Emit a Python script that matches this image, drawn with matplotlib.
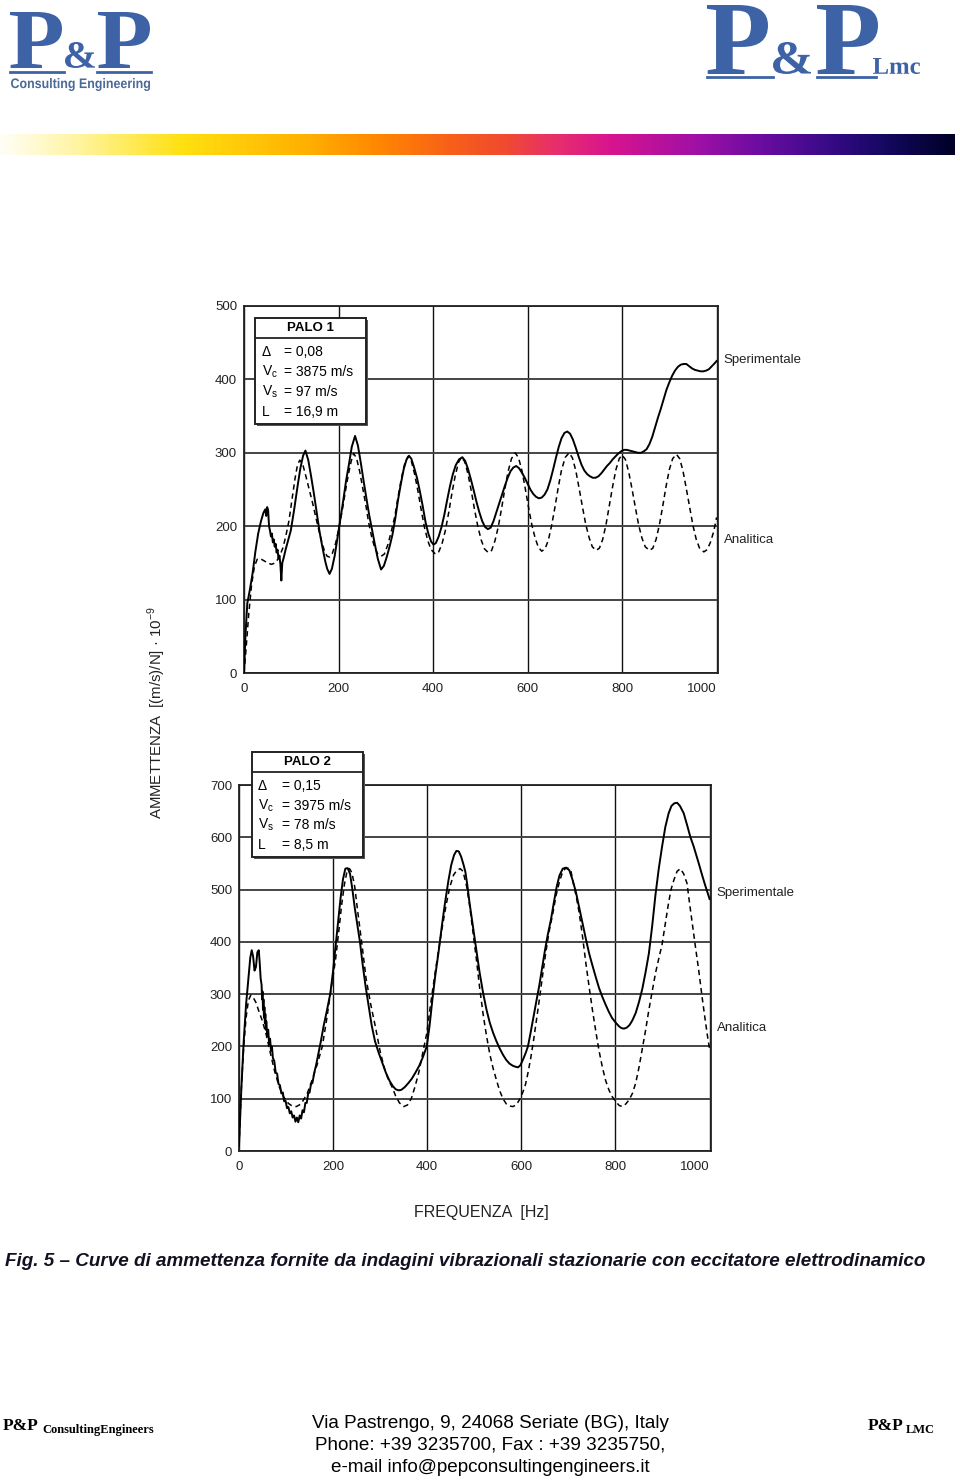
import matplotlib
matplotlib.use("Agg")
import matplotlib.pyplot as plt
import numpy as np
from matplotlib.textpath import TextPath
from matplotlib.font_manager import FontProperties, fontManager
from matplotlib.patches import PathPatch, Rectangle
from matplotlib.transforms import Affine2D
from matplotlib.colors import LinearSegmentedColormap

# --- values (frequency Hz, admittance) ---
sper1 = [(0, 0), (3, 50), (7, 95), (12, 112), (18, 135), (24, 165), (30, 190), (36, 207), (41, 218), (45, 223),
         (47, 214), (49, 226), (51, 222), (53, 200), (55, 194), (57, 186), (59, 190), (61, 178), (63, 182), (65, 172),
         (67, 176), (69, 164), (71, 168), (73, 156), (75, 160), (77, 148), (79, 126), (81, 150), (84, 157), (88, 168),
         (93, 180), (99, 194), (106, 222), (113, 253), (119, 278), (125, 296), (130, 303), (136, 290), (142, 268),
         (148, 244), (154, 218), (160, 192), (166, 171), (172, 152), (176, 142), (181, 135), (186, 142), (192, 160),
         (198, 185), (204, 210), (210, 235), (216, 262), (222, 284), (228, 308), (235, 323), (241, 310), (247, 287),
         (253, 262), (259, 238), (265, 215), (271, 195), (277, 175), (283, 156), (290, 141), (296, 146), (302, 158),
         (308, 172), (314, 188), (320, 210), (326, 236), (332, 258), (338, 278), (344, 291), (349, 296), (354, 292),
         (360, 280), (366, 266), (372, 248), (378, 228), (384, 206), (390, 190), (396, 179), (401, 175), (406, 177),
         (412, 186), (418, 199), (424, 216), (430, 236), (436, 255), (442, 271), (448, 283), (455, 291), (462, 294),
         (468, 289), (474, 278), (480, 264), (486, 249), (492, 233), (498, 219), (504, 207), (510, 199), (516, 196),
         (522, 198), (528, 207), (534, 219), (540, 231), (546, 243), (552, 255), (558, 266), (564, 275), (570, 280),
         (576, 282), (582, 279), (588, 273), (594, 266), (600, 258), (606, 250), (612, 244), (618, 240), (624, 238),
         (630, 239), (636, 243), (642, 250), (648, 262), (654, 277), (660, 293), (666, 308), (672, 320), (678, 327),
         (684, 329), (690, 326), (696, 318), (702, 307), (708, 295), (714, 284), (720, 276), (726, 271), (732, 268),
         (738, 266), (744, 266), (750, 268), (756, 272), (762, 277), (768, 282), (774, 286), (780, 291), (786, 295),
         (792, 299), (798, 302), (804, 304), (810, 304), (816, 303), (822, 302), (828, 301), (834, 300), (840, 300),
         (846, 302), (852, 305), (858, 312), (864, 322), (870, 335), (876, 348), (882, 360), (888, 373), (894, 386),
         (900, 396), (906, 405), (912, 412), (918, 417), (924, 420), (930, 421), (936, 421), (942, 418), (948, 415),
         (954, 413), (960, 412), (966, 411), (972, 411), (978, 412), (984, 414), (990, 418), (996, 422), (1000, 425)]

anal1 = [(0, 0), (4, 30), (10, 80), (16, 120), (22, 145), (28, 155), (34, 156), (42, 153), (50, 150), (58, 148),
         (66, 150), (74, 157), (82, 170), (88, 185), (95, 207), (102, 238), (108, 265), (113, 283), (118, 290),
         (124, 285), (131, 268), (138, 250), (145, 232), (152, 212), (159, 193), (166, 175), (171, 165), (176, 159),
         (181, 158), (187, 163), (194, 177), (201, 198), (208, 222), (215, 249), (221, 271), (227, 289), (232, 299),
         (238, 293), (245, 274), (251, 253), (258, 228), (264, 204), (270, 186), (276, 172), (283, 162), (290, 159),
         (297, 162), (304, 174), (311, 191), (319, 213), (326, 240), (333, 265), (340, 285), (347, 295), (354, 289),
         (361, 271), (368, 248), (375, 222), (382, 198), (389, 180), (396, 168), (405, 162), (412, 165), (419, 176),
         (426, 194), (433, 218), (440, 245), (447, 269), (454, 287), (460, 294), (467, 288), (474, 271), (481, 248),
         (488, 222), (495, 199), (502, 181), (509, 169), (517, 164), (524, 167), (531, 180), (538, 199), (545, 224),
         (552, 251), (559, 275), (566, 292), (574, 300), (581, 293), (588, 276), (595, 252), (602, 226), (609, 202),
         (616, 184), (623, 171), (630, 166), (637, 169), (644, 181), (651, 201), (658, 226), (665, 253), (672, 277),
         (680, 294), (688, 300), (695, 293), (702, 276), (709, 252), (716, 227), (723, 203), (730, 185), (737, 172),
         (745, 167), (752, 170), (759, 182), (766, 202), (773, 228), (780, 254), (787, 277), (794, 292), (800, 297),
         (807, 291), (814, 274), (821, 251), (828, 226), (835, 202), (842, 184), (849, 172), (858, 167), (865, 170),
         (872, 182), (879, 202), (886, 227), (893, 254), (900, 277), (907, 292), (915, 298), (922, 292), (929, 275),
         (936, 251), (943, 226), (950, 201), (957, 182), (964, 170), (973, 165), (980, 168), (987, 178), (994, 193),
         (1000, 212)]

sper2 = [(0, 10), (5, 120), (10, 210), (15, 280), (20, 330), (24, 370), (27, 384), (30, 372), (33, 345), (36, 352),
         (39, 380), (42, 384), (44, 360), (46, 330), (48, 318), (49, 290), (50, 305), (51, 270), (52, 290), (53, 255),
         (54, 275), (55, 245), (56, 262), (57, 232), (58, 248), (60, 220), (62, 232), (64, 205), (66, 215), (68, 192),
         (70, 200), (72, 178), (75, 172), (78, 150), (81, 148), (84, 128), (87, 126), (90, 110), (93, 112), (96, 95),
         (99, 96), (102, 82), (105, 84), (108, 72), (111, 76), (114, 64), (117, 68), (120, 56), (123, 64), (126, 55),
         (129, 68), (132, 62), (135, 78), (138, 74), (141, 92), (144, 92), (147, 110), (150, 112), (153, 128),
         (156, 130), (160, 150), (164, 165), (169, 187), (174, 210), (180, 240), (186, 265), (194, 301), (200, 345),
         (205, 390), (211, 441), (216, 485), (221, 520), (226, 540), (231, 541), (236, 530), (241, 500), (246, 465),
         (251, 435), (257, 400), (263, 355), (269, 315), (275, 280), (282, 240), (289, 210), (296, 190), (304, 170),
         (312, 150), (320, 134), (327, 124), (333, 118), (339, 116), (345, 117), (352, 122), (360, 130), (367, 138),
         (375, 150), (383, 163), (391, 180), (399, 200), (405, 240), (411, 290), (417, 335), (424, 380), (431, 430),
         (438, 476), (445, 517), (451, 547), (457, 566), (462, 574), (467, 573), (472, 563), (477, 548), (481, 534),
         (485, 510), (490, 474), (497, 430), (504, 385), (511, 343), (519, 301), (526, 270), (533, 245), (540, 226),
         (547, 210), (554, 196), (561, 184), (568, 174), (575, 167), (582, 163), (588, 161), (593, 160), (598, 164),
         (604, 176), (609, 187), (614, 200), (620, 228), (626, 258), (632, 287), (638, 316), (644, 350), (650, 383),
         (656, 413), (663, 443), (669, 475), (675, 505), (681, 527), (688, 540), (695, 542), (702, 537), (709, 518),
         (716, 495), (723, 465), (730, 436), (737, 406), (744, 378), (751, 355), (758, 333), (765, 312), (772, 295),
         (779, 280), (786, 266), (793, 254), (801, 245), (808, 238), (813, 235), (818, 234), (824, 236), (830, 241),
         (836, 250), (843, 264), (850, 285), (857, 310), (864, 342), (871, 378), (878, 430), (885, 490), (892, 540),
         (899, 582), (906, 620), (913, 646), (919, 660), (925, 665), (931, 666), (937, 660), (945, 646), (952, 624),
         (959, 601), (966, 583), (973, 562), (977, 550), (984, 528), (990, 510), (996, 493), (1000, 482)]

anal2 = [(0, 10), (5, 120), (10, 200), (15, 255), (20, 288), (25, 298), (30, 294), (36, 284), (42, 268), (50, 248),
         (58, 222), (66, 190), (75, 155), (85, 124), (95, 103), (105, 91), (113, 86), (122, 85), (132, 90), (145, 110),
         (155, 135), (166, 165), (177, 200), (186, 250), (194, 300), (200, 335), (205, 365), (212, 420), (218, 470),
         (224, 510), (230, 537), (235, 540), (240, 532), (246, 505), (252, 460), (262, 390), (270, 330), (280, 280),
         (290, 237), (300, 190), (310, 155), (318, 135), (325, 123), (333, 105), (341, 92), (350, 85), (358, 88),
         (366, 100), (374, 123), (382, 150), (390, 185), (399, 225), (407, 280), (415, 330), (423, 378), (431, 423),
         (440, 470), (448, 505), (456, 528), (463, 537), (470, 540), (476, 535), (484, 505), (490, 470), (497, 420),
         (504, 370), (511, 315), (519, 260), (526, 220), (533, 185), (540, 158), (547, 136), (554, 115), (561, 100),
         (568, 90), (575, 86), (582, 85), (589, 88), (596, 98), (603, 112), (609, 128), (614, 149), (620, 178),
         (626, 212), (632, 250), (638, 288), (645, 335), (652, 380), (659, 420), (667, 455), (674, 490), (681, 515),
         (687, 532), (693, 540), (699, 541), (705, 537), (711, 510), (717, 485), (723, 455), (730, 410), (737, 360),
         (744, 314), (751, 270), (758, 230), (765, 192), (772, 161), (779, 135), (786, 117), (793, 104), (801, 94),
         (808, 87), (815, 85), (822, 90), (829, 98), (836, 110), (843, 130), (850, 160), (857, 195), (864, 231),
         (871, 270), (878, 305), (885, 340), (892, 368), (899, 395), (906, 435), (912, 470), (918, 500), (924, 518),
         (931, 535), (938, 540), (945, 530), (952, 512), (958, 470), (964, 430), (970, 390), (977, 345), (984, 295),
         (990, 255), (996, 217), (1000, 195)]

x_ticks = [0, 200, 400, 600, 800, 1000]
y_ticks1 = [0, 100, 200, 300, 400, 500]
y_ticks2 = [0, 100, 200, 300, 400, 500, 600, 700]

rows1 = [("Δ", "= 0,08"), ("V$_\\mathregular{c}$", "= 3875 m/s"), ("V$_\\mathregular{s}$", "= 97 m/s"), ("L", "= 16,9 m")]
rows2 = [("Δ", "= 0,15"), ("V$_\\mathregular{c}$", "= 3975 m/s"), ("V$_\\mathregular{s}$", "= 78 m/s"), ("L", "= 8,5 m")]

# y (data) where the curve names sit at the right edge
lab1 = {"Sperimentale": 426, "Analitica": 181}
lab2 = {"Sperimentale": 493, "Analitica": 235}

caption = ("Fig. 5 \u2013 Curve di ammettenza fornite da indagini vibrazionali "
           "stazionarie con eccitatore elettrodinamico")
address = ["Via Pastrengo, 9, 24068 Seriate (BG), Italy",
           "Phone: +39 3235700, Fax : +39 3235750,",
           "e-mail info@pepconsultingengineers.it"]

grad_stops = [(0.00, "#fffef5"), (0.08, "#fff4a0"), (0.19, "#ffe010"), (0.32, "#ffb000"), (0.39, "#ff8a00"),
              (0.47, "#f86018"), (0.53, "#f04a30"), (0.58, "#e8306a"), (0.64, "#d8148e"), (0.73, "#a010a6"),
              (0.80, "#6a0ca0"), (0.87, "#380a88"), (0.93, "#140860"), (1.00, "#000028")]

installed = {f.name for f in fontManager.ttflist}
NARROW = "Liberation Sans Narrow" if "Liberation Sans Narrow" in installed else "Liberation Sans"
SANS = "Liberation Sans"
SERIF = "Liberation Serif"
BLUE = "#3d63a6"


def logo_word(ax, s, x0, x1, ytop, ybot, color, family=SERIF, weight="bold"):
    # text squeezed into a pixel box (logos are condensed)
    tp = TextPath((0, 0), s, size=100, prop=FontProperties(family=family, weight=weight))
    bb = tp.get_extents()
    tr = (Affine2D().translate(-bb.x0, -bb.y0)
          .scale((x1 - x0) / bb.width, -(ybot - ytop) / bb.height)
          .translate(x0, ybot))
    ax.add_patch(PathPatch(tr.transform_path(tp), facecolor=color, edgecolor="none"))


def draw_chart(ax, sper, anal, yticks, title, rows, box, labels):
    f, a = zip(*sper)
    ax.plot(f, a, color="black", lw=1.4, zorder=3)
    f, a = zip(*anal)
    ax.plot(f, a, color="black", lw=1.1, ls=(0, (3.5, 2.5)), zorder=3)

    ax.set_xlim(0, 1003)
    ax.set_ylim(0, yticks[-1])
    ax.set_xticks(x_ticks, [str(t) for t in x_ticks])
    ax.set_yticks(yticks, [str(t) for t in yticks])
    ax.tick_params(length=0, labelsize=9.5, colors="#222222")
    ax.tick_params(axis="x", pad=7)
    ax.tick_params(axis="y", pad=5)
    for lab in ax.get_xticklabels() + ax.get_yticklabels():
        lab.set_family(NARROW)
    ax.get_xticklabels()[-1].set_horizontalalignment("right")
    ax.yaxis.grid(True, color="#444444", lw=1.4)
    ax.xaxis.grid(True, color="#111111", lw=1.0)
    ax.set_axisbelow(True)
    for sp in ax.spines.values():
        sp.set_color("#222222")
        sp.set_linewidth(1.3)

    x0, x1, ytop, ybot, ysep, ty, rys, xs, xe = box
    ax.add_patch(Rectangle((x0 + 0.004, ybot - 0.006), x1 - x0, ytop - ybot, transform=ax.transAxes,
                           facecolor="#555555", edgecolor="none", clip_on=False, zorder=5))
    ax.add_patch(Rectangle((x0, ybot), x1 - x0, ytop - ybot, transform=ax.transAxes,
                           facecolor="white", edgecolor="#222222", lw=1.4, clip_on=False, zorder=6))
    ax.plot([x0, x1], [ysep, ysep], transform=ax.transAxes, color="#222222", lw=1.3,
            clip_on=False, zorder=7)
    ax.text((x0 + x1) / 2, ty, title, transform=ax.transAxes, ha="center", va="center",
            fontsize=9.5, fontweight="bold", family=NARROW, zorder=8)
    for (sym, val), ry in zip(rows, rys):
        ax.text(xs, ry, sym, transform=ax.transAxes, ha="left", va="center",
                fontsize=10, family=SANS, zorder=8)
        ax.text(xe, ry, val, transform=ax.transAxes, ha="left", va="center",
                fontsize=10, family=NARROW, zorder=8)

    tr = ax.get_yaxis_transform()
    for name, yv in labels.items():
        ax.text(1.012, yv, name, transform=tr, ha="left", va="center", fontsize=9.5,
                family=NARROW, color="#222222")


fig = plt.figure(figsize=(9.6, 14.8), dpi=100)

# page decoration in pixel coordinates
bg = fig.add_axes([0, 0, 1, 1])
bg.set_xlim(0, 960)
bg.set_ylim(1480, 0)
bg.axis("off")

# left logo
logo_word(bg, "P", 10, 62, 12, 68, BLUE)
logo_word(bg, "&", 65, 95, 42, 68, BLUE)
logo_word(bg, "P", 98, 150, 12, 68, BLUE)
bg.plot([10, 64], [72, 72], color=BLUE, lw=2)
bg.plot([97, 151], [72, 72], color=BLUE, lw=2)
logo_word(bg, "Consulting Engineering", 11, 150, 78, 91, "#4a6a98", family=SANS)

# right logo
logo_word(bg, "P", 707, 768, 5, 74, BLUE)
logo_word(bg, "&", 773, 811, 42, 74, BLUE)
logo_word(bg, "P", 817, 878, 5, 74, BLUE)
logo_word(bg, "Lmc", 873, 920, 58, 74, BLUE)
bg.plot([707, 773], [77, 77], color=BLUE, lw=2)
bg.plot([817, 876], [77, 77], color=BLUE, lw=2)

# colour band
cmap = LinearSegmentedColormap.from_list("band", grad_stops)
bg.imshow(np.linspace(0, 1, 600).reshape(1, -1), cmap=cmap, aspect="auto",
          extent=[0, 955, 155, 134], interpolation="bilinear")
bg.set_xlim(0, 960)
bg.set_ylim(1480, 0)

# axis titles
bg.text(157, 713, "AMMETTENZA  [(m/s)/N] \u00b7 10$^{\\mathregular{-9}}$", rotation=90,
        ha="center", va="center", fontsize=10.8, family=SANS, color="#222222")
bg.text(481, 1213, "FREQUENZA  [Hz]", ha="center", va="center", fontsize=11.5,
        family=SANS, color="#222222")

# caption
bg.text(5, 1262, caption, ha="left", va="center", fontsize=13.6, fontweight="bold",
        fontstyle="italic", family=SANS, color="#111122")

# footer
bg.text(3, 1430, "P&P", ha="left", va="baseline", fontsize=12.5, fontweight="bold", family=SERIF)
bg.text(42, 1433, "ConsultingEngineers", ha="left", va="baseline", fontsize=9,
        fontweight="bold", family=SERIF)
bg.text(868, 1430, "P&P", ha="left", va="baseline", fontsize=12.5, fontweight="bold", family=SERIF)
bg.text(906, 1433, "LMC", ha="left", va="baseline", fontsize=9, fontweight="bold", family=SERIF)
for i, line in enumerate(address):
    bg.text(490, 1423 + 22 * i, line, ha="center", va="center", fontsize=13.6, family=NARROW)

ax1 = fig.add_axes([244 / 960, 1 - 673 / 1480, 474 / 960, 367 / 1480])
draw_chart(ax1, sper1, anal1, y_ticks1, "PALO 1", rows1,
           (0.023, 0.257, 0.967, 0.678, 0.913, 0.940, [0.875, 0.820, 0.766, 0.711], 0.038, 0.084), lab1)

ax2 = fig.add_axes([239 / 960, 1 - 1151 / 1480, 472 / 960, 366 / 1480])
draw_chart(ax2, sper2, anal2, y_ticks2, "PALO 2", rows2,
           (0.0275, 0.263, 1.090, 0.803, 1.036, 1.063, [0.997, 0.943, 0.891, 0.836], 0.040, 0.091), lab2)

fig.savefig("out.png", dpi=100)
